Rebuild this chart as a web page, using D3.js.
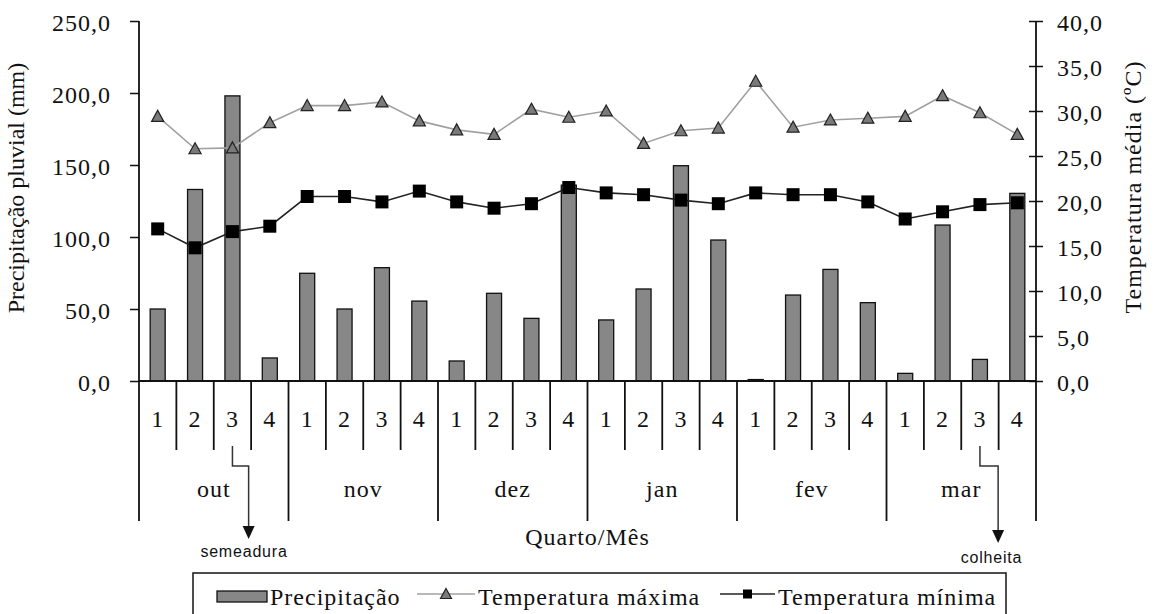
<!DOCTYPE html>
<html>
<head>
<meta charset="utf-8">
<script src="https://cdn.jsdelivr.net/npm/d3@7"></script>
<style>
  html, body { margin: 0; padding: 0; background: #fff; }
  svg { display: block; }
  .serif { font-family: "Liberation Serif", "Times New Roman", serif; font-size: 24px; letter-spacing: 1px; fill: #111; }
  .sans { font-family: "Liberation Sans", Arial, sans-serif; font-size: 16px; letter-spacing: 0.8px; fill: #111; }
</style>
</head>
<body>
<svg id="chart" width="1154" height="614"></svg>
<script>
// ---- data ----
const months = ["out", "nov", "dez", "jan", "fev", "mar"];
const quarters = ["1", "2", "3", "4"];
const precip = [50, 133, 198, 16, 74.8, 50, 78.7, 55.5, 13.9, 60.9, 43.5, 136,
                42.4, 63.9, 149.5, 97.9, 1, 59.7, 77.5, 54.4, 5.3, 108.3, 15, 130.3];
const tmax = [29.4, 25.8, 25.9, 28.7, 30.6, 30.6, 31.0, 28.9, 27.9, 27.4, 30.2, 29.3,
              30.0, 26.4, 27.8, 28.1, 33.3, 28.2, 29.0, 29.2, 29.4, 31.7, 29.8, 27.4];
const tmin = [16.9, 14.8, 16.6, 17.2, 20.5, 20.5, 19.9, 21.1, 19.9, 19.2, 19.7, 21.5,
              20.9, 20.7, 20.1, 19.7, 20.9, 20.7, 20.7, 19.9, 18.0, 18.8, 19.6, 19.8];
const leftTicks = [0, 50, 100, 150, 200, 250];
const rightTicks = [0, 5, 10, 15, 20, 25, 30, 35, 40];
const legendLabels = ["Precipitação", "Temperatura máxima", "Temperatura mínima"];
const events = [{label: "semeadura", idx: 2}, {label: "colheita", idx: 22}];

// ---- layout ----
const svg = d3.select("#chart");
const X0 = 139, X1 = 1036, Y0 = 381, Y1 = 21;
const cats = [];
months.forEach(m => quarters.forEach(q => cats.push(m + q)));

const x = d3.scaleBand().domain(d3.range(cats.length)).range([X0, X1]).padding(0);
const yL = d3.scaleLinear().domain([0, 250]).range([Y0, Y1]);
const yR = d3.scaleLinear().domain([0, 40]).range([Y0, Y1]);
const fmt = v => d3.format(".1f")(v).replace(".", ",");
const cx = i => x(i) + x.bandwidth() / 2;

// bars
const barW = 15;
svg.append("g").selectAll("rect").data(precip).join("rect")
  .attr("x", (d, i) => cx(i) - barW / 2)
  .attr("y", d => yL(d))
  .attr("width", barW)
  .attr("height", d => Y0 - yL(d))
  .attr("fill", "#878787")
  .attr("stroke", "#111")
  .attr("stroke-width", 1.3);

// left axis
const axL = svg.append("g").attr("transform", `translate(${X0},0)`)
  .call(d3.axisLeft(yL).tickValues(leftTicks).tickFormat(fmt).tickSize(9).tickPadding(0));
axL.select(".domain").remove();
axL.selectAll(".tick line").attr("stroke", "#111").attr("stroke-width", 1.5);
axL.selectAll(".tick text").attr("class", "serif").attr("x", -28).attr("dy", "0.38em")
  .attr("text-anchor", "end").style("font-size", "24px");
svg.append("line").attr("x1", X0).attr("x2", X0).attr("y1", Y1).attr("y2", 521)
  .attr("stroke", "#111").attr("stroke-width", 1.8);

// right axis
const axR = svg.append("g").attr("transform", `translate(${X1},0)`)
  .call(d3.axisRight(yR).tickValues(rightTicks).tickFormat(fmt).tickSize(7).tickPadding(0));
axR.select(".domain").remove();
axR.selectAll(".tick line").attr("stroke", "#111").attr("stroke-width", 1.5).attr("x1", -7);
axR.selectAll(".tick text").attr("class", "serif").attr("x", 21).attr("dy", "0.38em")
  .attr("text-anchor", "start").style("font-size", "24px");
svg.append("line").attr("x1", X1).attr("x2", X1).attr("y1", Y1).attr("y2", 521)
  .attr("stroke", "#111").attr("stroke-width", 1.8);

// x axis line
svg.append("line").attr("x1", X0).attr("x2", X1).attr("y1", Y0).attr("y2", Y0)
  .attr("stroke", "#111").attr("stroke-width", 2);

// category dividers
const g = svg.append("g");
d3.range(1, cats.length).forEach(i => {
  const isMonth = i % 4 === 0;
  g.append("line").attr("x1", x(i)).attr("x2", x(i)).attr("y1", Y0).attr("y2", isMonth ? 521 : 450)
    .attr("stroke", "#111").attr("stroke-width", 1.8);
});
g.selectAll("text.q").data(cats).join("text").attr("class", "serif")
  .attr("x", (d, i) => cx(i)).attr("y", 427).attr("text-anchor", "middle")
  .text(d => d.slice(-1));
g.selectAll("text.m").data(months).join("text").attr("class", "serif")
  .attr("x", (d, i) => (x(i * 4) + x(i * 4 + 3) + x.bandwidth()) / 2).attr("y", 497)
  .attr("text-anchor", "middle").text(d => d);

// titles
svg.append("text").attr("class", "serif").attr("x", (X0 + X1) / 2).attr("y", 545)
  .attr("text-anchor", "middle").text("Quarto/Mês");
svg.append("text").attr("class", "serif").attr("transform", "translate(24,188) rotate(-90)")
  .attr("text-anchor", "middle").style("letter-spacing", "0px").text("Precipitação pluvial (mm)");
svg.append("text").attr("class", "serif").attr("transform", "translate(1141,187) rotate(-90)")
  .attr("text-anchor", "middle").text("Temperatura média (ºC)");

// lines
const lineMax = d3.line().x((d, i) => cx(i)).y(d => yR(d));
svg.append("path").attr("d", lineMax(tmax)).attr("fill", "none").attr("stroke", "#a0a0a0").attr("stroke-width", 1.6);
svg.append("path").attr("d", lineMax(tmin)).attr("fill", "none").attr("stroke", "#222").attr("stroke-width", 1.6);

const tri = (s) => `M0,${-s * 0.55}L${s * 0.55},${s * 0.45}L${-s * 0.55},${s * 0.45}Z`;
svg.append("g").selectAll("path").data(tmax).join("path")
  .attr("transform", (d, i) => `translate(${cx(i)},${yR(d)})`)
  .attr("d", tri(11)).attr("fill", "#7a7a7a").attr("stroke", "#222").attr("stroke-width", 1.2);
svg.append("g").selectAll("rect").data(tmin).join("rect")
  .attr("x", (d, i) => cx(i) - 6.5).attr("y", d => yR(d) - 6.5)
  .attr("width", 13).attr("height", 13).attr("fill", "#000");

// event arrows
events.forEach((e, k) => {
  const ax = cx(e.idx);
  const bx = x(e.idx) + x.bandwidth() - 0.5 + (k === 0 ? -2 : 0);
  const tip = k === 0 ? 539 : 543;
  svg.append("path").attr("d", `M${ax},446 V466 H${bx} V${tip - 13}`)
    .attr("fill", "none").attr("stroke", "#333").attr("stroke-width", 1.5);
  svg.append("path").attr("d", `M${bx - 6},${tip - 13} L${bx + 6},${tip - 13} L${bx},${tip} Z`).attr("fill", "#111");
  svg.append("text").attr("class", "sans").attr("x", k === 0 ? 244 : 991.5).attr("y", k === 0 ? 557 : 563)
    .attr("text-anchor", "middle").text(e.label);
});

// legend
const lg = svg.append("g");
lg.append("rect").attr("x", 193).attr("y", 573).attr("width", 813).attr("height", 60)
  .attr("fill", "none").attr("stroke", "#222").attr("stroke-width", 1.6);
lg.append("rect").attr("x", 217).attr("y", 591).attr("width", 50).attr("height", 11)
  .attr("fill", "#878787").attr("stroke", "#111").attr("stroke-width", 1.3);
lg.append("text").attr("class", "serif").attr("x", 270).attr("y", 605).text(legendLabels[0]);
lg.append("line").attr("x1", 417).attr("x2", 475).attr("y1", 594).attr("y2", 594).attr("stroke", "#a0a0a0").attr("stroke-width", 1.6);
lg.append("path").attr("transform", "translate(446,594)").attr("d", tri(10)).attr("fill", "#7a7a7a").attr("stroke", "#222").attr("stroke-width", 1.2);
lg.append("text").attr("class", "serif").attr("x", 478).attr("y", 605).text(legendLabels[1]);
lg.append("line").attr("x1", 720).attr("x2", 775).attr("y1", 594).attr("y2", 594).attr("stroke", "#222").attr("stroke-width", 1.6);
lg.append("rect").attr("x", 743).attr("y", 589.5).attr("width", 9).attr("height", 9).attr("fill", "#000");
lg.append("text").attr("class", "serif").attr("x", 778).attr("y", 605).text(legendLabels[2]);
</script>
</body>
</html>
